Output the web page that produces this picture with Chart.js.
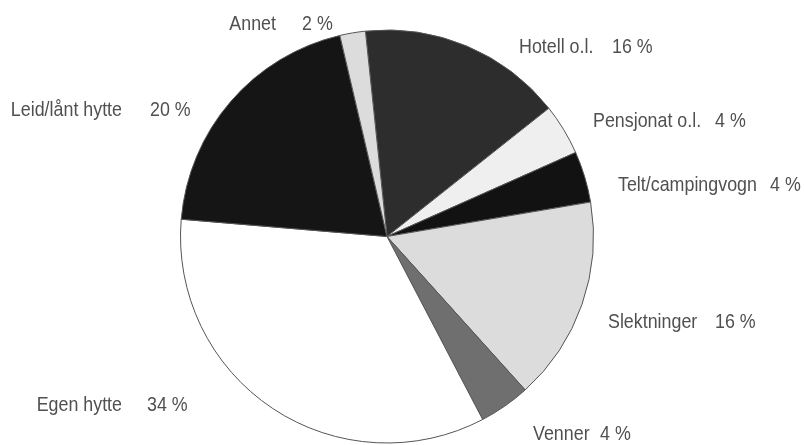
<!DOCTYPE html>
<html lang="no">
  <head>
    <meta charset="UTF-8" />
    <title>Overnatting</title>
    <script src="https://cdn.jsdelivr.net/npm/chart.js"></script>
    <style>
      body {
        margin: 0;
        background: #fff;
      }
      .wrap {
        position: relative;
        width: 804px;
        height: 445px;
      }
    </style>
  </head>
  <body>
    <div class="wrap">
      <canvas id="pie"></canvas>
    </div>

    <script>
      // data (clockwise from the top)
      const categories = [
        "Hotell o.l.",
        "Pensjonat o.l.",
        "Telt/campingvogn",
        "Slektninger",
        "Venner",
        "Egen hytte",
        "Leid/lånt hytte",
        "Annet",
      ];
      const shares = [16, 4, 4, 16, 4, 34, 20, 2];

      const fills = [
        "#2d2d2d",
        "#efefef",
        "#121212",
        "#dcdcdc",
        "#6f6f6f",
        "#ffffff",
        "#151515",
        "#dcdcdc",
      ];

      // where each label goes: name x, value x, middle y (name right-aligned when align is "right")
      const labelAt = [
        { x: 519, vx: 612, y: 47, align: "left" },
        { x: 593, vx: 715, y: 121, align: "left" },
        { x: 618, vx: 770, y: 185, align: "left" },
        { x: 608, vx: 715, y: 322, align: "left" },
        { x: 533, vx: 600, y: 434, align: "left" },
        { x: 122, vx: 147, y: 405, align: "right" },
        { x: 122, vx: 150, y: 110, align: "right" },
        { x: 276, vx: 302, y: 24, align: "right" },
      ];

      // no narrow font installed, so squeeze Liberation Sans sideways
      const labelFont = "21px 'Liberation Sans', Arial, sans-serif";
      const squeeze = 0.85;

      function narrowText(ctx, text, x, y, align) {
        ctx.save();
        ctx.translate(x, y);
        ctx.scale(squeeze, 1);
        ctx.textAlign = align;
        ctx.fillText(text, 0, 0);
        ctx.restore();
      }

      const sliceLabels = {
        id: "sliceLabels",
        afterDraw(chart) {
          const ctx = chart.ctx;
          ctx.save();
          ctx.font = labelFont;
          ctx.fillStyle = "#505050";
          ctx.textBaseline = "middle";
          categories.forEach((name, i) => {
            const p = labelAt[i];
            narrowText(ctx, name, p.x, p.y, p.align);
            narrowText(ctx, shares[i] + " %", p.vx, p.y, "left");
          });
          ctx.restore();
        },
      };

      new Chart(document.getElementById("pie"), {
        type: "pie",
        data: {
          labels: categories,
          datasets: [
            {
              data: shares,
              backgroundColor: fills,
              borderColor: "#555",
              borderWidth: 1,
            },
          ],
        },
        options: {
          responsive: true,
          maintainAspectRatio: false,
          animation: false,
          rotation: -6,
          layout: {
            padding: { top: 29, bottom: 1, left: 180, right: 210 },
          },
          plugins: {
            legend: { display: false },
            tooltip: { enabled: false },
          },
        },
        plugins: [sliceLabels],
      });
    </script>
  </body>
</html>
